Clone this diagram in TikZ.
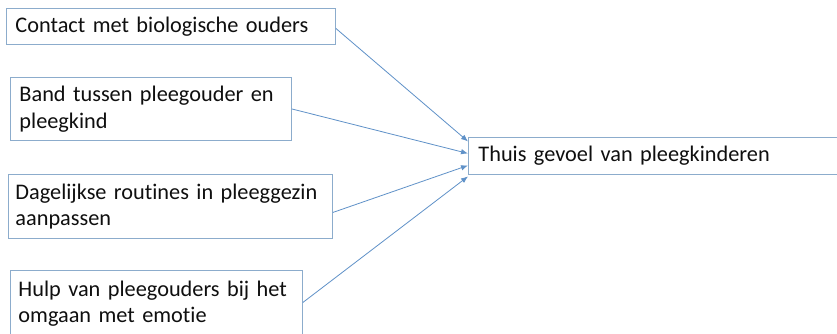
\documentclass[tikz,border=0pt]{standalone}
\usepackage{fontspec}
\setmainfont{Carlito}[Ligatures=NoCommon]
\usetikzlibrary{arrows.meta}
\definecolor{boxline}{RGB}{140,172,204}
\definecolor{arrowline}{RGB}{95,145,200}
\definecolor{txt}{RGB}{15,15,15}
\begin{document}
\begin{tikzpicture}[x=1pt,y=-1pt,
  factor/.style={draw=boxline, line width=0.9pt, anchor=north west, inner xsep=9pt, inner ysep=0pt,
    align=left, font=\fontsize{22.3}{26.5}\selectfont, text=txt},
  conn/.style={draw=arrowline, line width=0.8pt, -{Latex[length=7pt,width=5.5pt]}}]
\useasboundingbox (0,0) rectangle (837,334);
\clip (0,0) rectangle (837,334);
\fill[white] (0,0) rectangle (837,334);
\node[factor, minimum width=329pt, minimum height=36pt, text width=311pt] (b1) at (6,8) {Contact met biologische ouders};
\node[factor, minimum width=281pt, minimum height=63pt, text width=263pt] (b2) at (10,77) {Band tussen pleegouder en\\pleegkind};
\node[factor, minimum width=324pt, minimum height=64pt, text width=310pt, inner xsep=7pt] (b3) at (8,174) {Dagelijkse routines in pleeggezin\\aanpassen};
\node[factor, minimum width=292pt, minimum height=66pt, text width=276pt, inner xsep=8pt] (b4) at (10,270) {Hulp van pleegouders bij het\\omgaan met emotie};
\node[factor, minimum width=390pt, minimum height=37pt, text width=370pt, inner xsep=10pt] (T) at (468,137) {Thuis gevoel van pleegkinderen};
\draw[conn] ([yshift=-2pt]b1.east) -- ([yshift=14.5pt]T.west);
\draw[conn] (b2.east) -- ([yshift=2.5pt]T.west);
\draw[conn] ([yshift=-6pt]b3.east) -- ([yshift=-9.5pt]T.west);
\draw[conn] ([yshift=1pt]b4.east) -- ([yshift=-20.5pt]T.west);
\end{tikzpicture}
\end{document}
